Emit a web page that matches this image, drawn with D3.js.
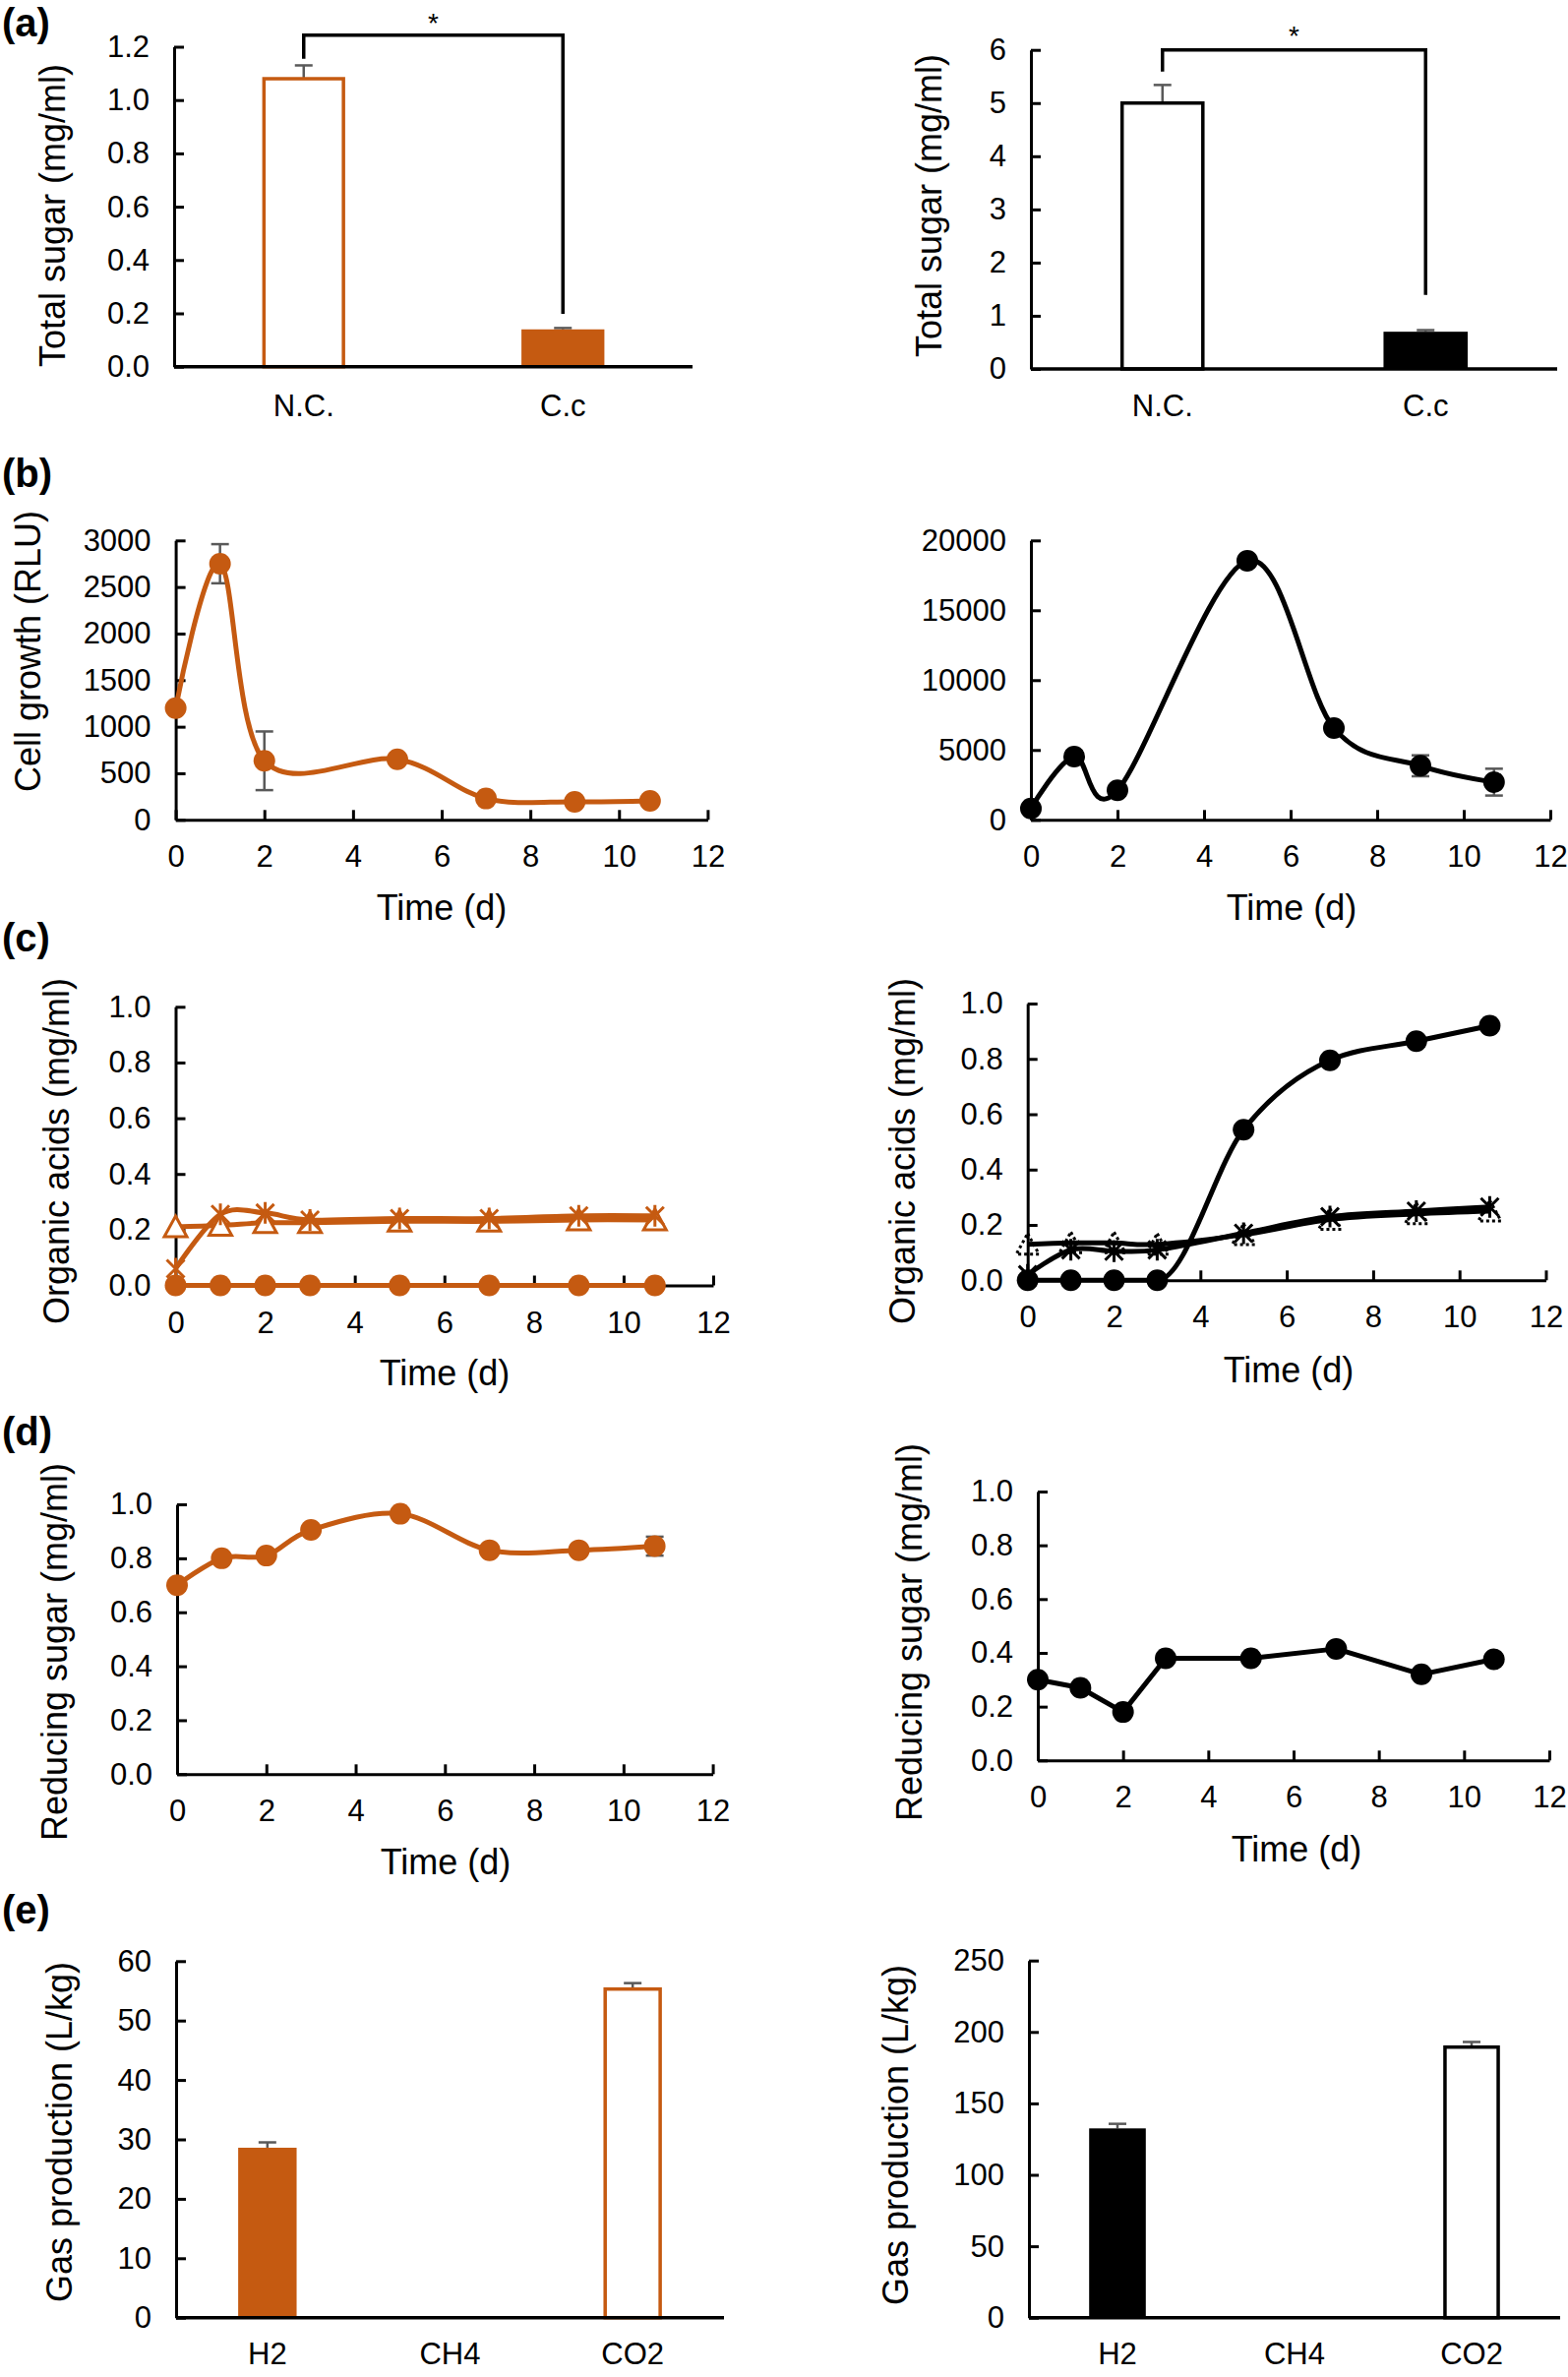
<!DOCTYPE html>
<html>
<head>
<meta charset="utf-8">
<script src="https://cdn.jsdelivr.net/npm/d3@7"></script>
<style>
  html, body { margin: 0; padding: 0; background: #fff; }
  svg { display: block; }
</style>
</head>
<body>
<script>
// ---------------- DATA ----------------
// (a) Total sugar
const sugarCategories = ["N.C.", "C.c"];
const totalSugarOrange = [1.08, 0.14];
const totalSugarOrangeErr = [0.05, 0.005];
const totalSugarBlack = [5.0, 0.70];
const totalSugarBlackErr = [0.34, 0.03];
const sugarTicksOrange = [0, 0.2, 0.4, 0.6, 0.8, 1.0, 1.2];
const sugarTicksBlack = [0, 1, 2, 3, 4, 5, 6];

// (b) Cell growth
const growthDays = [0, 1, 2, 5, 7, 9, 10.7];
const cellGrowthOrange = [1200, 2750, 634, 650, 229, 194, 204];
const cellGrowthOrangeErr = [0, 210, 315, 0, 0, 0, 0];
const cellGrowthBlack = [820, 4530, 2110, 18550, 6570, 3870, 2700];
const cellGrowthBlackErr = [0, 0, 0, 0, 0, 750, 960];
const growthTicksOrange = [0, 500, 1000, 1500, 2000, 2500, 3000];
const growthTicksBlack = [0, 5000, 10000, 15000, 20000];

// (c) Organic acids
const days = [0, 1, 2, 3, 5, 7, 9, 10.7];
const acidCircleOrange = [0, 0, 0, 0, 0, 0, 0, 0];
const acidTriangleOrange = [0.21, 0.215, 0.225, 0.225, 0.23, 0.23, 0.235, 0.235];
const acidStarOrange = [0.06, 0.255, 0.26, 0.235, 0.24, 0.24, 0.25, 0.25];
const acidCircleBlack = [0, 0, 0, 0, 0.544, 0.795, 0.864, 0.92];
const acidTriangleBlack = [0.13, 0.135, 0.135, 0.13, 0.165, 0.22, 0.24, 0.25];
const acidStarBlack = [0.02, 0.11, 0.105, 0.11, 0.17, 0.23, 0.25, 0.265];

// (d) Reducing sugar
const reducingSugarOrange = [0.70, 0.80, 0.81, 0.905, 0.965, 0.83, 0.83, 0.845];
const reducingSugarOrangeErr = [0, 0, 0, 0, 0, 0, 0, 0.035];
const reducingSugarBlack = [0.30, 0.27, 0.18, 0.38, 0.38, 0.415, 0.32, 0.376];

// (e) Gas production
const gasCategories = ["H2", "CH4", "CO2"];
const gasOrange = [28.6, 0, 55.3];
const gasOrangeErr = [0.9, 0, 1.0];
const gasBlack = [132.5, 0, 189.4];
const gasBlackErr = [3.2, 0, 3.6];
const gasTicksOrange = [0, 10, 20, 30, 40, 50, 60];
const gasTicksBlack = [0, 50, 100, 150, 200, 250];

const timeTicks = [0, 2, 4, 6, 8, 10, 12];
const fractionTicks = [0, 0.2, 0.4, 0.6, 0.8, 1.0];

// ---------------- STYLE ----------------
const ORANGE = "#C55A11";
const BLACK = "#000000";
const ERR = "#595959";
const FONT = "'Liberation Sans', Arial, Helvetica, sans-serif";
const TICK_FS = 31, TITLE_FS = 36, PANEL_FS = 40;

const svg = d3.select("body").append("svg")
  .attr("width", 1594).attr("height", 2416)
  .style("font-family", FONT);
svg.append("rect").attr("width", 1594).attr("height", 2416).attr("fill", "#fff");

function styleAxis(g) {
  g.select(".domain").attr("stroke", "#000").attr("stroke-width", 3);
  g.selectAll(".tick line").attr("stroke", "#000").attr("stroke-width", 3);
  g.selectAll(".tick text").attr("fill", "#000").style("font-size", TICK_FS + "px").style("font-family", FONT);
}

function yAxis(y, x0, ticks, fmt) {
  const g = svg.append("g").attr("transform", `translate(${x0},0)`)
    .call(d3.axisLeft(y).tickValues(ticks).tickFormat(fmt).tickSize(-10).tickSizeOuter(0).tickPadding(25));
  styleAxis(g);
  return g;
}

function yTitle(text, bx, cy) {
  svg.append("text").attr("transform", `translate(${bx},${cy}) rotate(-90)`)
    .attr("text-anchor", "middle").style("font-size", TITLE_FS + "px").text(text);
}
function xTitle(text, cx, by) {
  svg.append("text").attr("x", cx).attr("y", by)
    .attr("text-anchor", "middle").style("font-size", TITLE_FS + "px").text(text);
}
function panelLabel(text, x, by) {
  svg.append("text").attr("x", x).attr("y", by).style("font-size", PANEL_FS + "px")
    .style("font-weight", "bold").text(text);
}

// ---------------- BAR PANELS ----------------
function barPanel(cfg) {
  const x = d3.scalePoint().domain(cfg.categories).range([cfg.x0, cfg.x1]).padding(0.5);
  const y = d3.scaleLinear().domain([0, cfg.yMax]).range([cfg.y0, cfg.yTop]);
  const bw = x.step() * 0.32;
  const data = cfg.categories.map((c, i) => ({ c, v: cfg.values[i], e: cfg.errs[i], style: cfg.styles[i] }))
    .filter(d => d.v > 0);
  // error bars (plus direction)
  data.forEach(d => {
    const cx = x(d.c);
    svg.append("line").attr("x1", cx).attr("x2", cx).attr("y1", y(d.v)).attr("y2", y(d.v + d.e))
      .attr("stroke", ERR).attr("stroke-width", 2.5);
    svg.append("line").attr("x1", cx - 9).attr("x2", cx + 9).attr("y1", y(d.v + d.e)).attr("y2", y(d.v + d.e))
      .attr("stroke", ERR).attr("stroke-width", 2.5);
  });
  svg.append("g").selectAll("rect").data(data).join("rect")
    .attr("x", d => x(d.c) - bw / 2 + (d.style === "open" ? 1.75 : 0))
    .attr("width", d => bw - (d.style === "open" ? 3.5 : 0))
    .attr("y", d => y(d.v))
    .attr("height", d => y(0) - y(d.v))
    .attr("fill", d => d.style === "open" ? "#fff" : cfg.color)
    .attr("stroke", d => d.style === "open" ? cfg.color : "none")
    .attr("stroke-width", 3.5);
  yAxis(y, cfg.x0, cfg.ticks, cfg.fmt);
  // category axis
  svg.append("line").attr("x1", cfg.x0).attr("x2", cfg.x1).attr("y1", cfg.y0).attr("y2", cfg.y0)
    .attr("stroke", "#000").attr("stroke-width", 3.5);
  svg.append("g").selectAll("text").data(cfg.categories).join("text")
    .attr("x", d => x(d)).attr("y", cfg.y0 + cfg.catOffset)
    .attr("text-anchor", "middle").style("font-size", TICK_FS + "px").text(d => d);
  yTitle(cfg.title, cfg.titleX, cfg.titleY);
  return { x, y };
}

function bracket(sc, c1, c2, vTop, vLeft, vRight, starY) {
  const p = d3.path();
  p.moveTo(sc.x(c1), sc.y(vLeft));
  p.lineTo(sc.x(c1), sc.y(vTop));
  p.lineTo(sc.x(c2), sc.y(vTop));
  p.lineTo(sc.x(c2), sc.y(vRight));
  svg.append("path").attr("d", p.toString()).attr("fill", "none").attr("stroke", "#000").attr("stroke-width", 3.5);
  svg.append("text").attr("x", (sc.x(c1) + sc.x(c2)) / 2).attr("y", starY)
    .attr("text-anchor", "middle").style("font-size", "28px").text("*");
}

// ---------------- LINE PANELS ----------------
const starPath = "M-9,-9L9,9M-9,9L9,-9M0,-11L0,11";
const triPath = "M0,-11L11.5,10L-11.5,10Z";

function curveFor(kind) {
  if (kind === "linear") return d3.curveLinear;
  if (kind === "monotone") return d3.curveMonotoneX;
  return d3.curveCardinal.tension(0);
}

function linePanel(cfg) {
  const x = d3.scaleLinear().domain([0, 12]).range([cfg.x0, cfg.x1]);
  const y = d3.scaleLinear().domain([0, cfg.yMax]).range([cfg.y0, cfg.yTop]);
  const gx = svg.append("g").attr("transform", `translate(0,${cfg.y0})`)
    .call(d3.axisBottom(x).tickValues(timeTicks).tickFormat(d3.format("d")).tickSize(-10).tickSizeOuter(0).tickPadding(26));
  styleAxis(gx);
  yAxis(y, cfg.x0, cfg.ticks, cfg.fmt);

  cfg.series.forEach(s => {
    const pts = s.xs.map((xv, i) => ({ x: xv, v: s.values[i], e: s.errs ? s.errs[i] : 0 }));
    // error bars
    pts.filter(d => d.e > 0).forEach(d => {
      const cx = x(d.x);
      svg.append("line").attr("x1", cx).attr("x2", cx).attr("y1", y(d.v - d.e)).attr("y2", y(d.v + d.e))
        .attr("stroke", ERR).attr("stroke-width", 2.5);
      [d.v - d.e, d.v + d.e].forEach(v => svg.append("line").attr("x1", cx - 9).attr("x2", cx + 9)
        .attr("y1", y(v)).attr("y2", y(v)).attr("stroke", ERR).attr("stroke-width", 2.5));
    });
    const line = d3.line().x(d => x(d.x)).y(d => y(d.v)).curve(curveFor(s.curve));
    svg.append("path").datum(pts).attr("d", line).attr("fill", "none")
      .attr("stroke", s.color).attr("stroke-width", 5).attr("stroke-linejoin", "round");
    const mg = svg.append("g");
    pts.forEach(d => {
      const tx = `translate(${x(d.x)},${y(d.v)})`;
      if (s.marker === "circle") {
        mg.append("circle").attr("cx", x(d.x)).attr("cy", y(d.v)).attr("r", 11).attr("fill", s.color);
      } else if (s.marker === "triangle") {
        mg.append("path").attr("d", triPath).attr("transform", tx).attr("fill", "#fff")
          .attr("stroke", s.color).attr("stroke-width", 3);
      } else if (s.marker === "dottri") {
        mg.append("path").attr("d", triPath).attr("transform", tx).attr("fill", "none")
          .attr("stroke", s.color).attr("stroke-width", 3).attr("stroke-dasharray", "3,3");
      } else if (s.marker === "star") {
        mg.append("path").attr("d", starPath).attr("transform", tx).attr("fill", "none")
          .attr("stroke", s.color).attr("stroke-width", 3);
      }
    });
  });
  if (cfg.title) yTitle(cfg.title, cfg.titleX, cfg.titleY);
  xTitle("Time (d)", cfg.xtX, cfg.xtY);
}

const f1 = d3.format(".1f"), fd = d3.format("d");

// ---------- (a) ----------
panelLabel("(a)", 2, 37);
const aL = barPanel({
  categories: sugarCategories, values: totalSugarOrange, errs: totalSugarOrangeErr,
  styles: ["open", "filled"], color: ORANGE,
  x0: 177, x1: 704, y0: 372.7, yTop: 47.5, yMax: 1.2, ticks: sugarTicksOrange, fmt: f1,
  catOffset: 50, title: "Total sugar (mg/ml)", titleX: 66, titleY: 219
});
bracket(aL, "N.C.", "C.c", 1.243, 1.155, 0.198, 33);
const aR = barPanel({
  categories: sugarCategories, values: totalSugarBlack, errs: totalSugarBlackErr,
  styles: ["open", "filled"], color: BLACK,
  x0: 1048, x1: 1583, y0: 375, yTop: 50.7, yMax: 6, ticks: sugarTicksBlack, fmt: fd,
  catOffset: 48, title: "Total sugar (mg/ml)", titleX: 957, titleY: 209
});
bracket(aR, "N.C.", "C.c", 6.0, 5.59, 1.39, 46);

// ---------- (b) ----------
panelLabel("(b)", 2, 495);
linePanel({
  x0: 178.6, x1: 719.4, y0: 833.3, yTop: 549.3, yMax: 3000, ticks: growthTicksOrange, fmt: fd,
  series: [{ xs: growthDays, values: cellGrowthOrange, errs: cellGrowthOrangeErr, marker: "circle", color: ORANGE }],
  title: "Cell growth (RLU)", titleX: 41, titleY: 662, xtX: 449, xtY: 935
});
linePanel({
  x0: 1048, x1: 1576, y0: 833.3, yTop: 549.3, yMax: 20000, ticks: growthTicksBlack, fmt: fd,
  series: [{ xs: growthDays, values: cellGrowthBlack, errs: cellGrowthBlackErr, marker: "circle", color: BLACK }],
  title: null, xtX: 1313, xtY: 935
});

// ---------- (c) ----------
panelLabel("(c)", 2, 967);
linePanel({
  x0: 178.5, x1: 725, y0: 1306.5, yTop: 1023.3, yMax: 1.0, ticks: fractionTicks, fmt: f1,
  series: [
    { xs: days, values: acidTriangleOrange, marker: "triangle", color: ORANGE },
    { xs: days, values: acidStarOrange, marker: "star", color: ORANGE },
    { xs: days, values: acidCircleOrange, marker: "circle", color: ORANGE }
  ],
  title: "Organic acids (mg/ml)", titleX: 70, titleY: 1170, xtX: 452, xtY: 1408
});
linePanel({
  x0: 1044.7, x1: 1571.5, y0: 1301.3, yTop: 1020, yMax: 1.0, ticks: fractionTicks, fmt: f1,
  series: [
    { xs: days, values: acidTriangleBlack, marker: "dottri", color: BLACK },
    { xs: days, values: acidStarBlack, marker: "star", color: BLACK },
    { xs: days, values: acidCircleBlack, marker: "circle", color: BLACK, curve: "monotone" }
  ],
  title: "Organic acids (mg/ml)", titleX: 930, titleY: 1170, xtX: 1310, xtY: 1405
});

// ---------- (d) ----------
panelLabel("(d)", 2, 1469);
linePanel({
  x0: 180, x1: 724.6, y0: 1803.3, yTop: 1529, yMax: 1.0, ticks: fractionTicks, fmt: f1,
  series: [{ xs: days, values: reducingSugarOrange, errs: reducingSugarOrangeErr, marker: "circle", color: ORANGE }],
  title: "Reducing sugar (mg/ml)", titleX: 68, titleY: 1679, xtX: 453, xtY: 1905
});
linePanel({
  x0: 1055, x1: 1575, y0: 1789.3, yTop: 1516, yMax: 1.0, ticks: fractionTicks, fmt: f1,
  series: [{ xs: days, values: reducingSugarBlack, marker: "circle", color: BLACK, curve: "linear" }],
  title: "Reducing sugar (mg/ml)", titleX: 937, titleY: 1659, xtX: 1318, xtY: 1892
});

// ---------- (e) ----------
panelLabel("(e)", 2, 1955);
barPanel({
  categories: gasCategories, values: gasOrange, errs: gasOrangeErr,
  styles: ["filled", "filled", "open"], color: ORANGE,
  x0: 179, x1: 736, y0: 2355.7, yTop: 1993.3, yMax: 60, ticks: gasTicksOrange, fmt: fd,
  catOffset: 47, title: "Gas production (L/kg)", titleX: 72.5, titleY: 2167
});
barPanel({
  categories: gasCategories, values: gasBlack, errs: gasBlackErr,
  styles: ["filled", "filled", "open"], color: BLACK,
  x0: 1046, x1: 1586, y0: 2355.7, yTop: 1992.7, yMax: 250, ticks: gasTicksBlack, fmt: fd,
  catOffset: 47, title: "Gas production (L/kg)", titleX: 922.5, titleY: 2170
});
</script>
</body>
</html>
